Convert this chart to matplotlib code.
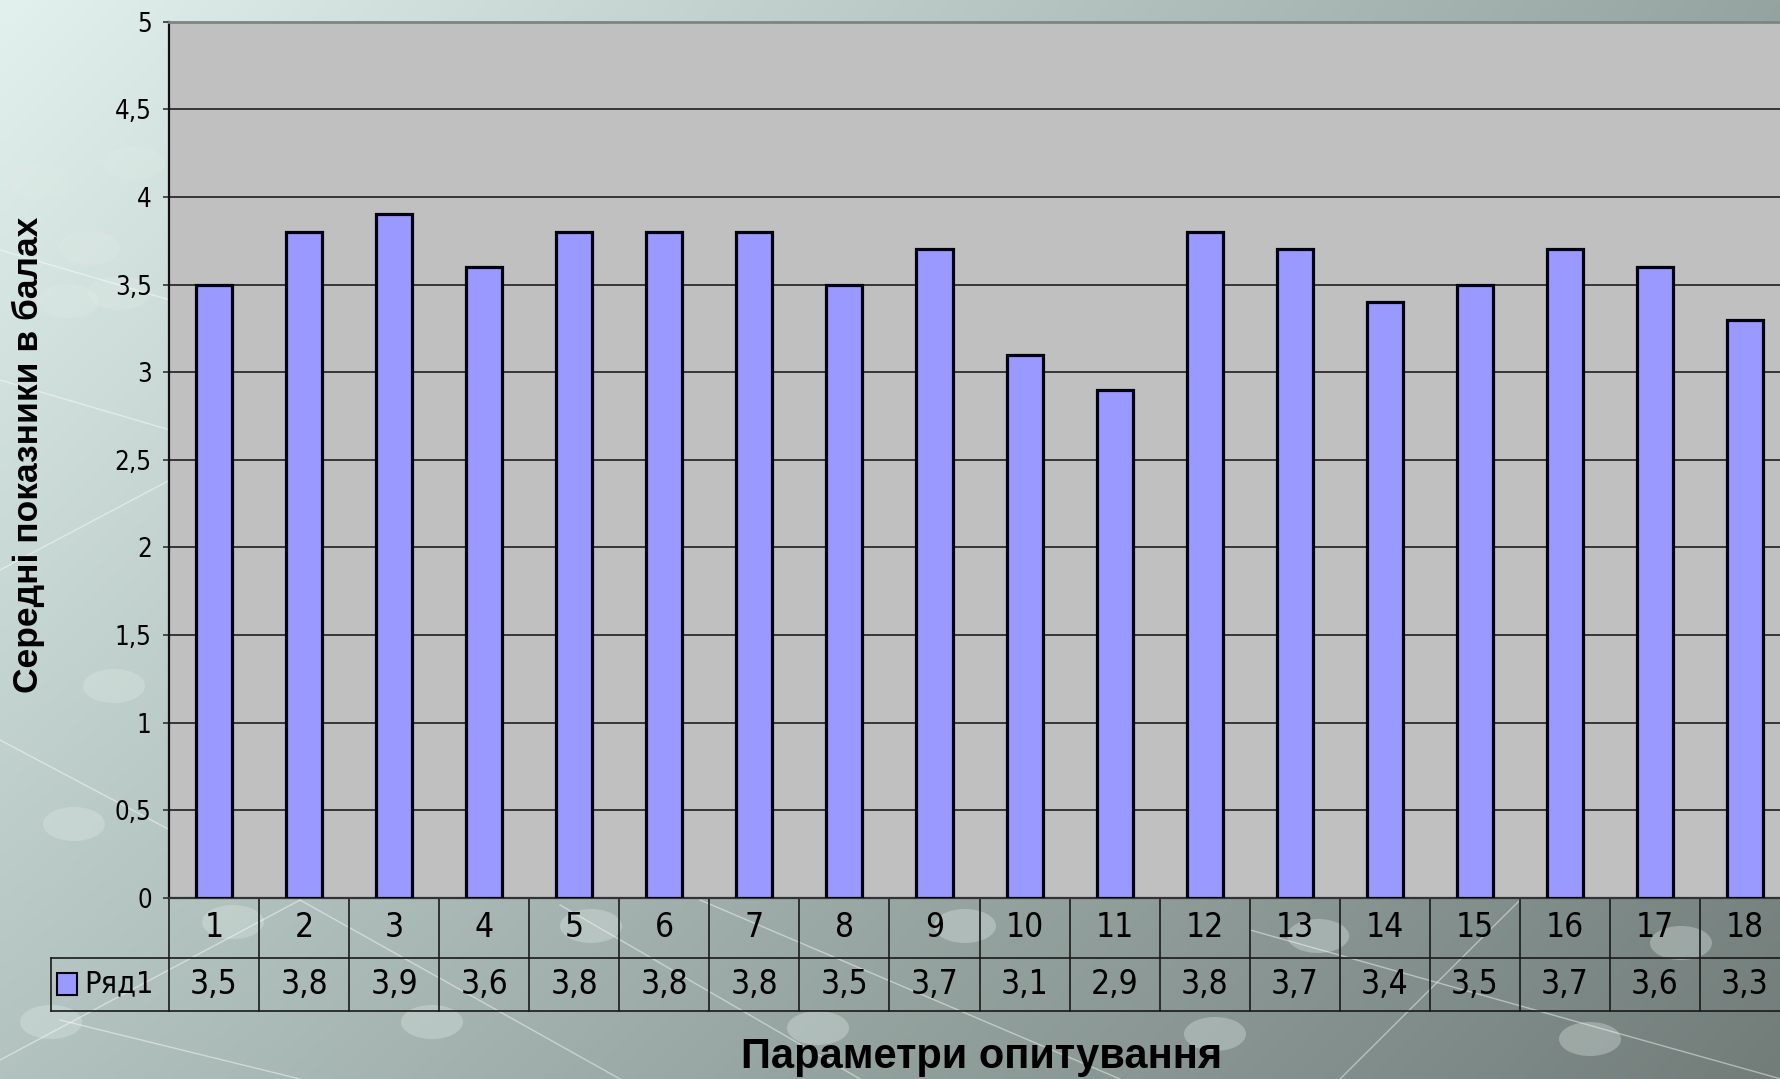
import numpy as np
import matplotlib

matplotlib.use("Agg")
import matplotlib.pyplot as plt  # noqa: E402
from matplotlib.patches import Ellipse, Rectangle  # noqa: E402

# survey parameters 1..18 and their mean scores
params = list(range(1, 19))
scores = [3.5, 3.8, 3.9, 3.6, 3.8, 3.8, 3.8, 3.5, 3.7, 3.1, 2.9, 3.8, 3.7, 3.4, 3.5, 3.7, 3.6, 3.3]
y_ticks = [0, 0.5, 1, 1.5, 2, 2.5, 3, 3.5, 4, 4.5, 5]
series_name = "Ряд1"
y_title = "Середні показники в балах"
x_title = "Параметри опитування"

W, H = 1781, 1079
BAR = "#9999FF"
TXT = dict(family="DejaVu Sans", fontstretch="condensed")


def comma(v):
    return f"{v:g}".replace(".", ",")


fig = plt.figure(figsize=(W / 100, H / 100), dpi=100)

# slide background: diagonal grey-green gradient with a faint network motif
bg = fig.add_axes([0, 0, 1, 1])
gx, gy = np.meshgrid(np.linspace(0, 1, 256), np.linspace(0, 1, 256))
tl, tr = np.array([226, 241, 237]), np.array([150, 164, 161])
bl, br = np.array([178, 195, 191]), np.array([114, 125, 122])
grad = ((1 - gx)[..., None] * (1 - gy)[..., None] * tl + gx[..., None] * (1 - gy)[..., None] * tr
        + (1 - gx)[..., None] * gy[..., None] * bl + gx[..., None] * gy[..., None] * br) / 255
bg.imshow(grad, extent=[0, W, H, 0], aspect="auto", interpolation="bilinear")
for (x0, y0, x1, y1) in [(0, 250, 170, 300), (0, 380, 170, 430), (0, 570, 170, 480),
                         (0, 740, 170, 830), (0, 1060, 300, 900), (60, 1020, 300, 1079),
                         (300, 900, 620, 1079), (560, 905, 860, 1079), (700, 900, 1120, 1079),
                         (1520, 900, 1340, 1079), (1250, 930, 1781, 1079)]:
    bg.plot([x0, x1], [y0, y1], color="white", lw=1, alpha=0.45)
for (cx, cy) in [(40, 182), (89, 248), (134, 163), (119, 293), (68, 301), (114, 686),
                 (74, 824), (51, 1022), (233, 922), (432, 1022), (591, 926), (818, 1028),
                 (1215, 1034), (1590, 1039), (1318, 936), (1681, 943), (965, 926)]:
    bg.add_patch(Ellipse((cx, cy), 62, 34, color="#dfeae7", alpha=0.35, lw=0))
bg.set_xlim(0, W)
bg.set_ylim(H, 0)
bg.axis("off")

# plot area runs slightly past the right edge of the slide
left, top, bottom, col = 169, 21.6, 898, 90.06
ax = fig.add_axes([left / W, 1 - bottom / H, 18 * col / W, (bottom - top) / H])
ax.set_facecolor("#C0C0C0")
ax.bar(params, scores, width=0.4, color=BAR, edgecolor="#000010", lw=2.3, zorder=3)
ax.set_xlim(0.5, 18.5)
ax.set_ylim(0, 5)
ax.set_yticks(y_ticks)
ax.set_yticklabels([comma(t) for t in y_ticks], fontsize=18.5, **TXT)
ax.set_xticks([])
ax.yaxis.grid(True, color="#1e1e1e", lw=1.2)
ax.set_axisbelow(True)
ax.tick_params(axis="y", length=4.5, width=1.2, color="#333333", pad=8)
ax.spines["left"].set_color("#111111")
ax.spines["left"].set_linewidth(1.6)
ax.spines["bottom"].set_color("#333333")
ax.spines["bottom"].set_linewidth(1.6)
ax.spines["top"].set_color("#7d8584")
ax.spines["top"].set_linewidth(2)
ax.spines["right"].set_visible(False)

# data table under the axis (x in data units, y in axes fraction)
tr_ = ax.get_xaxis_transform()
ph = bottom - top
r1 = -59.5 / ph
r2 = -113 / ph
leg_x = 0.5 - (left - 51) / col
line = dict(color="#1a1a1a", lw=1.2, transform=tr_, clip_on=False)
for k in range(19):
    ax.plot([0.5 + k, 0.5 + k], [0, r2], **line)
ax.plot([leg_x, 18.5], [r1, r1], **line)
ax.plot([leg_x, 18.5], [r2, r2], **line)
ax.plot([leg_x, leg_x], [r1, r2], **line)
for p, v in zip(params, scores):
    ax.text(p, r1 / 2, str(p), ha="center", va="center", fontsize=24,
            transform=tr_, clip_on=False, **TXT)
    ax.text(p, (r1 + r2) / 2, comma(v), ha="center", va="center", fontsize=24,
            transform=tr_, clip_on=False, **TXT)
sq_h = 22 / ph
ax.add_patch(Rectangle((0.5 - (left - 57) / col, (r1 + r2) / 2 - sq_h / 2), 20 / col, sq_h,
                       facecolor=BAR, edgecolor="#000010", lw=1.5, transform=tr_, clip_on=False))
ax.text(0.5 - (left - 84) / col, (r1 + r2) / 2, series_name, ha="left", va="center",
        fontsize=22, transform=tr_, clip_on=False, **TXT)

fig.text(28 / W, 1 - 455 / H, y_title, rotation=90, ha="center", va="center",
         fontsize=25.5, fontweight="bold", family="Liberation Sans")
fig.text(982 / W, 1 - 1068 / H, x_title, ha="center", va="baseline",
         fontsize=30, fontweight="bold", family=["Liberation Sans Narrow", "Liberation Sans"])

fig.savefig("out.png", dpi=100)
